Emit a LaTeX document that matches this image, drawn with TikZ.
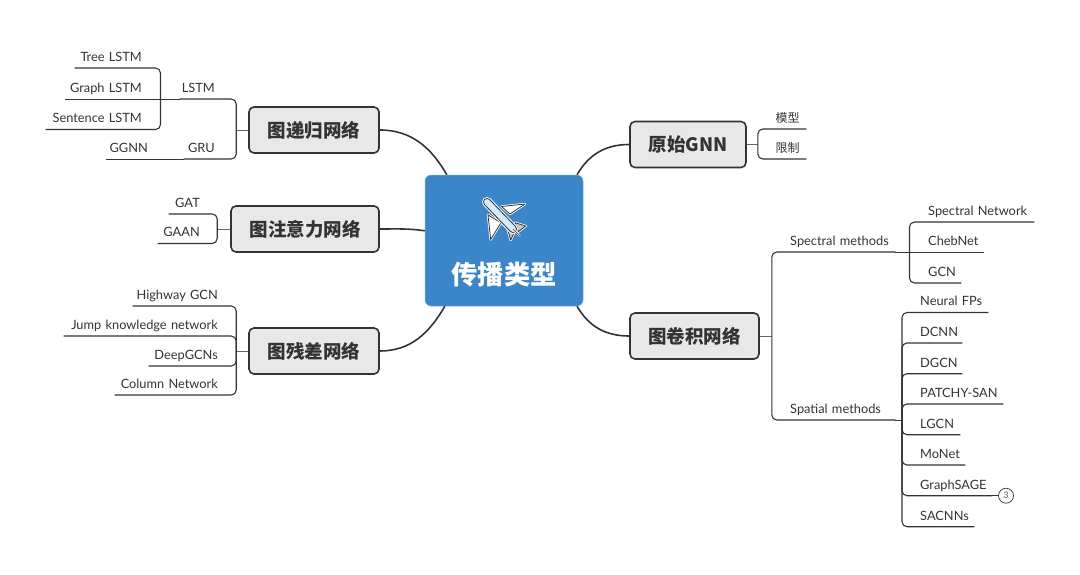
\documentclass[tikz,border=0pt]{standalone}
\usepackage{fontspec}
\setmainfont[WordSpace=0.7]{Lato}
\newfontfamily\cjk{Noto Sans CJK SC}
\usetikzlibrary{positioning}

\definecolor{hubblue}{HTML}{3A86C8}
\definecolor{hubedge}{HTML}{6DB3E3}
\definecolor{topicgray}{HTML}{E8E8E8}
\definecolor{inkdark}{HTML}{333333}
\definecolor{planeblue}{HTML}{D3ECF7}

\tikzset{
	hub/.style={fill=hubblue,draw=hubedge,line width=0.5pt,rounded corners=6pt,minimum width=158pt,minimum height=131pt},
	hubtitle/.style={text=white,font=\cjk\bfseries\fontsize{26.3}{28}\selectfont,inner sep=0pt},
	topic/.style={fill=topicgray,draw=inkdark,line width=1.6pt,rounded corners=5pt,minimum height=46pt,inner sep=0pt,text=inkdark,font=\cjk\bfseries\fontsize{18.5}{22}\selectfont},
	leafr/.style={anchor=south east,align=right,inner xsep=0pt,inner ysep=3.5pt,text=inkdark,font=\fontsize{12.8}{15}\selectfont,text height=10pt,text depth=3pt},
	leafl/.style={anchor=south west,align=left,inner xsep=0pt,inner ysep=3.5pt,text=inkdark,font=\fontsize{12.8}{15}\selectfont,text height=10pt,text depth=3pt},
	branch/.style={draw=inkdark,line width=1.1pt},
	run/.style={line width=0.7pt},
	stem/.style={draw=inkdark!75,line width=0.9pt},
	bough/.style={draw=inkdark,line width=1.6pt},
	elbow/.style={rounded corners=5pt,to path={|- (\tikztotarget)}}
}

\begin{document}
\begin{tikzpicture}[x=1pt,y=-1pt,on grid]
	\useasboundingbox (0,0) rectangle (1080,574);

	\node[hub] (hub) at (504,240.5) {};
	\node[hubtitle] (title) [below=34pt of hub] {传播类型};

	\node[topic,minimum width=130pt] (rnn) [above left=110.5pt and 190pt of hub] {图递归网络};
	\node[topic,minimum width=148pt] (att) [above left=11.5pt and 199pt of hub] {图注意力网络};
	\node[topic,minimum width=130pt] (res) [below left=110.5pt and 190pt of hub] {图残差网络};
	\node[topic,minimum width=116pt] (gnn) [above right=96pt and 184pt of hub] {原始GNN};
	\node[topic,minimum width=129pt] (conv) [below right=95.5pt and 190.5pt of hub] {图卷积网络};

	\coordinate[left=12pt of rnn.west] (rnnBr);
	\coordinate[left=13pt of att.west] (attBr);
	\coordinate[left=12pt of res.west] (resBr);
	\coordinate[right=11pt of gnn.east] (gnnBr);
	\coordinate[right=12pt of conv.east] (convBr);
	\coordinate (lstmBr) at (160.5,99);
	\coordinate (specBr) at (909.5,252);
	\coordinate (spatBr) at (902,420);

	% left side
	\node[leafr,text width=67pt] (tree) at (142,68) {Tree LSTM};
	\node[leafr,text width=77pt] (graph) at (142,99) {Graph LSTM};
	\node[leafr,text width=96pt] (sent) at (142,129.5) {Sentence LSTM};
	\node[leafr,text width=35pt] (lstm) at (215,99) {LSTM};
	\node[leafr,text width=31pt] (gru) at (215,159) {GRU};
	\node[leafr,text width=42pt] (ggnn) at (148,159) {GGNN};
	\node[leafr,text width=31pt] (gat) at (200,214) {GAT};
	\node[leafr,text width=42pt] (gaan) at (200,243.5) {GAAN};
	\node[leafr,text width=85pt] (high) at (218,306) {Highway GCN};
	\node[leafr,text width=154pt] (jump) at (218,336) {Jump knowledge network};
	\node[leafr,text width=69pt] (deep) at (218,366) {DeepGCNs};
	\node[leafr,text width=103pt] (col) at (218,395) {Column Network};

	% right side
	\node[leafl,text width=30.5pt] (model) at (775.5,129) {\cjk\fontsize{12}{14}\selectfont 模型};
	\node[leafl,text width=30.5pt] (limit) at (775.5,159) {\cjk\fontsize{12}{14}\selectfont 限制};
	\node[leafl,text width=105pt] (specm) at (790,252) {Spectral methods};
	\node[leafl,text width=105pt] (spatm) at (790,420) {Spatial methods};
	\node[leafl,text width=106pt] (specn) at (928,222) {Spectral Network};
	\node[leafl,text width=56pt] (cheb) at (928,252) {ChebNet};
	\node[leafl,text width=33pt] (gcn) at (928,283) {GCN};
	\node[leafl,text width=68pt] (neural) at (920,312.5) {Neural FPs};
	\node[leafl,text width=42pt] (dcnn) at (920,343) {DCNN};
	\node[leafl,text width=42pt] (dgcn) at (920,373.7) {DGCN};
	\node[leafl,text width=83pt] (patchy) at (920,404) {PATCHY-SAN};
	\node[leafl,text width=40pt] (lgcn) at (920,434.7) {LGCN};
	\node[leafl,text width=45pt] (monet) at (920,465) {MoNet};
	\node[leafl,text width=72pt] (sage) at (920,495.7) {GraphSAGE};
	\node[leafl,text width=54pt] (sacnn) at (920,526.7) {SACNNs};
	\node[circle,draw=inkdark,line width=0.7pt,fill=white,minimum size=15pt,inner sep=0pt,text=inkdark!80,font=\fontsize{9}{10}\selectfont] (count) at (1006,495.7) {3};

	\path[bough]
		(rnn.east) edge [out=0,in=120] (hub.131.5)
		(att.east) edge [out=0,in=172] (hub.173)
		(res.east) edge [out=0,in=240] (hub.228.5)
		(gnn.west) edge [out=180,in=60] (hub.42.7)
		(conv.west) edge [out=180,in=-60] (hub.-42.7);

	\path[stem]
		(rnn.west) edge (rnnBr)
		(att.west) edge (attBr)
		(res.west) edge (resBr)
		(gnn.east) edge (gnnBr)
		(conv.east) edge (convBr);

	\path[branch]
		(rnnBr) edge [elbow] (lstm.south west)
		(rnnBr) edge [elbow] (gru.south west)
		(gru.south west) edge [run] (ggnn.south west)
		(lstm.south west) edge [run] (graph.south west)
		(lstmBr) edge [elbow] (tree.south west)
		(lstmBr) edge [elbow] (sent.south west)

		(attBr) edge [elbow] (gat.south west)
		(attBr) edge [elbow] (gaan.south west)

		(resBr) edge [elbow] (high.south west)
		(resBr) edge [elbow] (jump.south west)
		(resBr) edge [elbow] (deep.south west)
		(resBr) edge [elbow] (col.south west)

		(gnnBr) edge [elbow] (model.south east)
		(gnnBr) edge [elbow] (limit.south east)

		(convBr) edge [elbow] (specm.south east)
		(convBr) edge [elbow] (spatm.south east)
		(specm.south east) edge [run] (cheb.south east)
		(spatm.south east) edge [run] (spatBr)
		(specBr) edge [elbow] (specn.south east)
		(specBr) edge [elbow] (gcn.south east)
		(spatBr) edge [elbow] (neural.south east)
		(spatBr) edge [elbow] (dcnn.south east)
		(spatBr) edge [elbow] (dgcn.south east)
		(spatBr) edge [elbow] (patchy.south east)
		(spatBr) edge [elbow] (lgcn.south east)
		(spatBr) edge [elbow] (monet.south east)
		(spatBr) edge [elbow] (sage.south east)
		(spatBr) edge [elbow] (sacnn.south east)
		(sage.south east) edge [run] (count);

	% plane on the hub
	\draw[white,line width=2.4pt,line join=round,fill=white]
		(501.5,206.5) -- (525,204) -- (510,214) -- cycle
		(488,215) -- (490.7,239.5) -- (501,222.7) -- cycle
		(515,222.7) -- (525.7,226) -- (518.3,231.7) -- cycle
		(507.3,228.3) -- (510.7,240) -- (514,233) -- cycle;
	\draw[inkdark,line width=0.8pt,line join=round,fill=white]
		(501.5,206.5) -- (525,204) -- (510,214) -- cycle
		(488,215) -- (490.7,239.5) -- (501,222.7) -- cycle;
	\draw[inkdark,line width=0.8pt,line join=round,fill=gray!45]
		(515,222.7) -- (525.7,226) -- (518.3,231.7) -- cycle
		(507.3,228.3) -- (510.7,240) -- (514,233) -- cycle;
	\draw[white,line width=10pt,line cap=round] (487,202) -- (513,229);
	\draw[inkdark,line width=8pt,line cap=round] (487,202) -- (513,229);
	\draw[planeblue,line width=6pt,line cap=round] (487,202) -- (513,229);
	\draw[white,line width=1.6pt] (513,229) -- (520,236);
	\draw[inkdark,line width=0.7pt] (513,229) -- (520,236);
\end{tikzpicture}
\end{document}
